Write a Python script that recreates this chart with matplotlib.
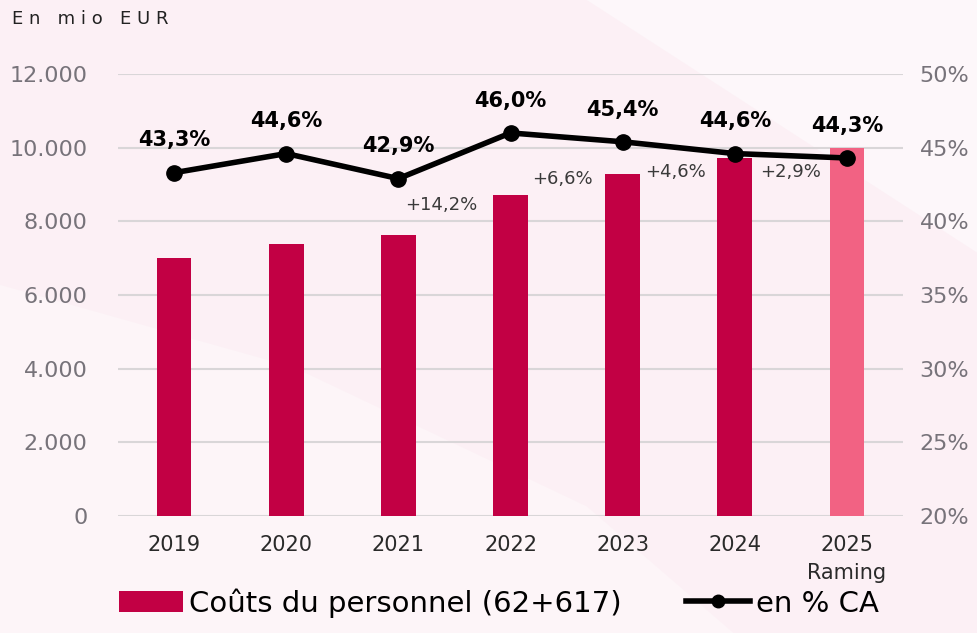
import matplotlib.pyplot as plt
from matplotlib.patches import Polygon
from matplotlib.lines import Line2D
from matplotlib.patches import Patch
import numpy as np

years = ['2019', '2020', '2021', '2022', '2023', '2024', '2025\nRaming']
costs = [7000, 7390, 7630, 8715, 9290, 9720, 10000]
pct_ca = [43.3, 44.6, 42.9, 46.0, 45.4, 44.6, 44.3]
pct_labels = ['43,3%', '44,6%', '42,9%', '46,0%', '45,4%', '44,6%', '44,3%']
growth_labels = ['+14,2%', '+6,6%', '+4,6%', '+2,9%']
growth_x = [2.38, 3.46, 4.47, 5.5]
growth_y = [41.1, 42.9, 43.35, 43.35]

plt.rcParams['font.family'] = ['DejaVu Sans']

bar_color = '#c20044'
forecast_color = '#f26283'
grid_color = '#d9d6d8'
tick_color = '#77737a'

fig = plt.figure(figsize=(9.78, 6.33), dpi=100)
fig.patch.set_facecolor('#fcf0f5')
# faint white swoosh in the background
fig.patches.append(Polygon([[0, 0.55], [0.3, 0.42], [0.6, 0.2], [0.75, 0.0], [0.0, 0.0]],
                           closed=True, transform=fig.transFigure,
                           facecolor='#fdf5f8', edgecolor='none', zorder=-5))
fig.patches.append(Polygon([[0.6, 1.0], [1.0, 0.6], [1.0, 1.0]],
                           closed=True, transform=fig.transFigure,
                           facecolor='#fdf7fa', edgecolor='none', zorder=-5))

ax = fig.add_axes([0.1207, 0.1848, 0.8026, 0.6983])
ax.set_facecolor('none')
x = np.arange(len(years))
colors = [bar_color] * (len(years) - 1) + [forecast_color]
ax.bar(x, costs, width=0.31, color=colors, zorder=2)
ax.set_xlim(-0.5, 6.5)
ax.set_ylim(0, 12000)
ax.set_yticks(range(0, 12001, 2000))
ax.set_yticklabels(['0', '2.000', '4.000', '6.000', '8.000', '10.000', '12.000'])
ax.set_xticks(x)
ax.set_xticklabels(years, linespacing=1.5)
ax.grid(axis='y', color=grid_color, linewidth=1.5, zorder=0)
ax.set_axisbelow(True)
for s in ax.spines.values():
    s.set_visible(False)
ax.tick_params(axis='y', length=0, pad=22, labelsize=16, labelcolor=tick_color)
ax.tick_params(axis='x', length=0, pad=14, labelsize=15, labelcolor='#2a2a2a')

ax2 = ax.twinx()
ax2.set_ylim(20, 50)
ax2.set_yticks(range(20, 51, 5))
ax2.set_yticklabels([f'{v}%' for v in range(20, 51, 5)])
for s in ax2.spines.values():
    s.set_visible(False)
ax2.tick_params(axis='y', length=0, pad=12, labelsize=16, labelcolor=tick_color)
ax2.plot(x, pct_ca, color='black', linewidth=4, marker='o', markersize=11, zorder=4)
for xi, yi, lab in zip(x, pct_ca, pct_labels):
    ax2.annotate(lab, (xi, yi), xytext=(0, 16), textcoords='offset points',
                 ha='center', va='bottom', fontsize=15, fontweight='bold')
for gx, gy, lab in zip(growth_x, growth_y, growth_labels):
    ax2.text(gx, gy, lab, ha='center', va='center', fontsize=13, color='#3a3a3a')

fig.text(0.012, 0.97, 'E n   m i o   E U R', ha='left', va='center', fontsize=13, color='#222222')

handles = [Patch(facecolor=bar_color, edgecolor='none'),
           Line2D([0], [0], color='black', linewidth=4, marker='o', markersize=9)]
fig.legend(handles, ['Coûts du personnel (62+617)', 'en % CA'], loc='lower center',
           bbox_to_anchor=(0.51, -0.017), ncol=2, frameon=False, fontsize=21,
           handlelength=2.2, handletextpad=0.2, columnspacing=2.2)

fig.savefig('out.png', dpi=100, facecolor=fig.get_facecolor())
